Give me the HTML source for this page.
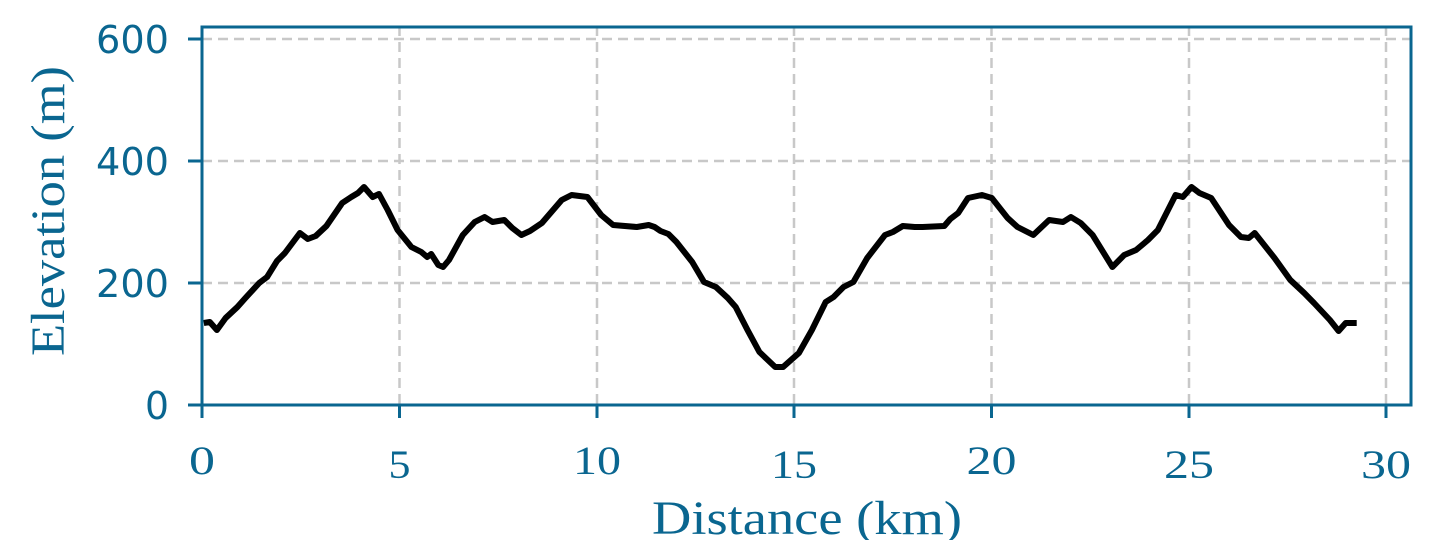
<!DOCTYPE html>
<html><head><meta charset="utf-8"><style>html,body{margin:0;padding:0;background:#fff;}svg{display:block}</style></head>
<body>
<svg width="1440" height="540" viewBox="0 0 1440 540" xmlns="http://www.w3.org/2000/svg">
<g stroke="#c8c8c8" stroke-width="2.5" stroke-dasharray="10,6">
<line x1="202" y1="39" x2="1411" y2="39"/>
<line x1="202" y1="161" x2="1411" y2="161"/>
<line x1="202" y1="283" x2="1411" y2="283"/>
<line x1="399.5" y1="26" x2="399.5" y2="405"/>
<line x1="597" y1="26" x2="597" y2="405"/>
<line x1="794" y1="26" x2="794" y2="405"/>
<line x1="991.5" y1="26" x2="991.5" y2="405"/>
<line x1="1189" y1="26" x2="1189" y2="405"/>
<line x1="1386" y1="26" x2="1386" y2="405"/>
</g>
<polyline fill="none" stroke="#000" stroke-width="6" stroke-linejoin="round" points="203.8,323 209.8,322 216.9,330 225.6,318 237.4,307 245.4,298 259.2,283 267.1,277 277,261 284.9,253 299.9,233 307.8,239 315.7,236 326.4,226 342.2,203 351.3,197 358,193 364,187 372.7,197 379,194 387.7,210 397.6,230 411.4,247 421.3,252 427.2,257 431.2,254 438.3,265 443.1,267 449,260 462.8,235 474.7,222 484.6,217 492.5,222 504.3,220 512.3,228 521.4,235 530,231 541.9,223 561.7,200 571.6,195 587.4,197 601.2,215 613.1,225 636.8,227 648.7,225 654.6,227 660.5,231 668.4,234 676.4,242 692.2,262 704,282 715.9,287 727.8,298 735.7,307 747.5,330 759.4,352 775.2,367 783.1,367 798.9,353 811.9,330 825.7,302 833.6,297 843.5,287 853.4,282 867.2,258 885,235 892.9,232 902.8,226 914.7,227 922.6,227 944.3,226 950.3,219 958.2,213 968,198 981.9,195 991.8,198 1007.6,218 1017.5,227 1033.3,235 1049.1,220 1063,222 1070.9,217 1080.7,223 1092.6,235 1112.4,267 1124.2,255 1136.1,250 1148,240 1157.9,230 1175.6,195 1182.8,197 1191.5,187 1199.4,193 1211.2,198 1229,225 1240.9,237 1248.8,238 1254.7,233 1274.5,258 1290.3,280 1304.2,293 1314,303 1329.9,320 1338.6,331 1345.7,323 1356.7,323"/>
<g stroke="#0a6690" stroke-width="3" fill="none">
<rect x="202" y="27" width="1209" height="378"/>
<line x1="188" y1="39" x2="202" y2="39"/>
<line x1="188" y1="161" x2="202" y2="161"/>
<line x1="188" y1="283" x2="202" y2="283"/>
<line x1="188" y1="405" x2="202" y2="405"/>
<line x1="202" y1="405" x2="202" y2="418"/>
<line x1="399.5" y1="405" x2="399.5" y2="418"/>
<line x1="597" y1="405" x2="597" y2="418"/>
<line x1="794" y1="405" x2="794" y2="418"/>
<line x1="991.5" y1="405" x2="991.5" y2="418"/>
<line x1="1189" y1="405" x2="1189" y2="418"/>
<line x1="1386" y1="405" x2="1386" y2="418"/>
</g>
<g fill="#0a6690" font-family="DejaVu Sans, sans-serif" font-size="38" text-anchor="end">
<text x="169" y="53" textLength="73" lengthAdjust="spacingAndGlyphs">600</text>
<text x="169" y="175" textLength="73" lengthAdjust="spacingAndGlyphs">400</text>
<text x="169" y="297" textLength="73" lengthAdjust="spacingAndGlyphs">200</text>
<text x="169" y="419" textLength="24" lengthAdjust="spacingAndGlyphs">0</text>
</g>
<g fill="#0a6690" font-family="Liberation Serif, serif" font-size="40" text-anchor="middle">
<text x="202" y="474" textLength="26" lengthAdjust="spacingAndGlyphs">0</text>
<text x="399.5" y="478" textLength="22" lengthAdjust="spacingAndGlyphs">5</text>
<text x="597" y="474" textLength="48" lengthAdjust="spacingAndGlyphs">10</text>
<text x="794" y="478" textLength="46" lengthAdjust="spacingAndGlyphs">15</text>
<text x="991.5" y="474" textLength="50" lengthAdjust="spacingAndGlyphs">20</text>
<text x="1189" y="478" textLength="50" lengthAdjust="spacingAndGlyphs">25</text>
<text x="1386" y="478" textLength="50" lengthAdjust="spacingAndGlyphs">30</text>
<text x="807" y="534" font-size="48" textLength="310" lengthAdjust="spacingAndGlyphs">Distance (km)</text>
<text transform="translate(64,211) rotate(-90)" font-size="48" textLength="290" lengthAdjust="spacingAndGlyphs">Elevation (m)</text>
</g>
</svg>
</body></html>
